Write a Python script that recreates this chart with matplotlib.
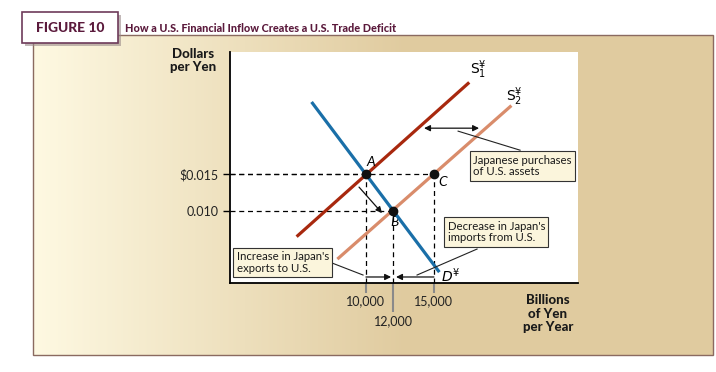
import numpy as np
import matplotlib
matplotlib.use('Agg')
import matplotlib.pyplot as plt
from matplotlib.patches import Rectangle

plt.rcParams['font.family'] = ['Lato', 'DejaVu Sans']

# quantities in billions of yen, prices in dollars per yen
point_names = ['A', 'B', 'C']
point_q = [10000, 12000, 15000]
point_p = [0.015, 0.010, 0.015]

demand_q = [6000, 15400]
demand_p = [0.0250, 0.0015]
s1_q = [4900, 17600]
s1_p = [0.0064, 0.0277]
s2_q = [7900, 20700]
s2_p = [0.0033, 0.0245]

y_ticks = [0.010, 0.015]
y_ticklabels = ['0.010', r'\$0.015']
x_ticks = [10000, 15000]
x_ticklabels = ['10,000', '15,000']
x_minor = [12000]
x_minor_labels = ['12,000']

W, H = 716, 372
fig = plt.figure(figsize=(W / 100, H / 100), dpi=100)

# background in pixel coordinates
bg = fig.add_axes([0, 0, 1, 1])
bg.set_xlim(0, W)
bg.set_ylim(H, 0)
bg.axis('off')

left_c = np.array([254, 249, 226]) / 255
right_c = np.array([224, 203, 159]) / 255
t = np.clip(np.linspace(0, 1, 680) / 0.55, 0, 1)
grad = left_c[None, :] * (1 - t[:, None]) + right_c[None, :] * t[:, None]
bg.imshow(grad[None, :, :], extent=(33, 713, 355, 35), aspect='auto', zorder=1)
bg.add_patch(Rectangle((33, 35), 680, 320, fill=False, ec='#8a6a60', lw=1.0, zorder=2))

# header box
bg.add_patch(Rectangle((25, 15), 96, 31, fc='#9a8a8a', ec='none', alpha=0.6, zorder=3))
bg.add_patch(Rectangle((22, 12), 96, 31, fc='white', ec='#6e3b5a', lw=1.2, zorder=4))
bg.text(70, 28, 'FIGURE 10', ha='center', va='center', fontsize=10,
        fontweight='black', color='#5b1a3c', zorder=5)
bg.text(125, 29, 'How a U.S. Financial Inflow Creates a U.S. Trade Deficit',
        ha='left', va='center', fontsize=7.8, fontweight='black', color='#5b1a3c', zorder=5)

# axis titles
fig.text(193 / W, 1 - 48 / H, 'Dollars\nper Yen', ha='center', va='top',
         fontsize=9.5, fontweight='black', linespacing=1.1, color='#1a1a1a')
fig.text(548 / W, 1 - 294 / H, 'Billions\nof Yen\nper Year', ha='center', va='top',
         fontsize=9.5, fontweight='black', linespacing=1.15, color='#1a1a1a')

ax = fig.add_axes([230 / W, 1 - 283 / H, 348 / W, 231 / H])
ax.set_facecolor('white')
ax.set_xlim(0, 25600)
ax.set_ylim(0, 0.0319)
for side in ['top', 'right']:
    ax.spines[side].set_visible(False)
for side in ['left', 'bottom']:
    ax.spines[side].set_linewidth(1.3)
    ax.spines[side].set_color('black')

ax.set_yticks(y_ticks)
ax.set_yticklabels(y_ticklabels)
ax.tick_params(axis='y', length=5, width=1.0, pad=3, labelsize=9, labelcolor='#222')
ax.set_xticks(x_ticks)
ax.set_xticklabels(x_ticklabels)
ax.set_xticks(x_minor, minor=True)
ax.set_xticklabels(x_minor_labels, minor=True)
ax.tick_params(axis='x', which='major', length=7, width=1.5, color='#8a8a8a',
               pad=2, labelsize=9, labelcolor='#222')
ax.tick_params(axis='x', which='minor', length=21, width=1.5, color='#8a8a8a',
               pad=2, labelsize=9, labelcolor='#222')

# dashed guides
dash = dict(color='black', lw=0.9, linestyle=(0, (4, 3)), zorder=2)
ax.hlines(point_p, 0, point_q, **dash)
ax.vlines(point_q, 0, point_p, **dash)

# curves
ax.plot(s1_q, s1_p, color='#a8280e', lw=2.3, solid_capstyle='butt', zorder=3)
ax.plot(s2_q, s2_p, color='#d98c6b', lw=2.3, solid_capstyle='butt', zorder=3)
ax.plot(demand_q, demand_p, color='#1a6fa8', lw=2.3, solid_capstyle='butt', zorder=4)
ax.plot(point_q, point_p, 'o', color='#111', ms=6, zorder=5)

lab = dict(fontsize=10, style='italic', ha='center', va='center')
ax.text(10350, 0.01670, point_names[0], **lab)
ax.text(12070, 0.00841, point_names[1], **lab)
ax.text(15650, 0.01393, point_names[2], **lab)
ax.text(18250, 0.0294, r'$\mathrm{S}_1^{¥}$', fontsize=10, ha='center', va='center')
ax.text(20900, 0.0257, r'$\mathrm{S}_2^{¥}$', fontsize=10, ha='center', va='center')
ax.text(15500, 0.0010, r'$\mathit{D}^{¥}$', fontsize=10, ha='left', va='center')

# annotation boxes
box = dict(boxstyle='square,pad=0.3', fc='#fbf5dc', ec='#333333', lw=0.8)
txt = dict(fontsize=8.2, ha='left', va='center', linespacing=1.05, bbox=box,
           zorder=6, color='#1a1a1a')
ax.text(17900, 0.01614, 'Japanese purchases\nof U.S. assets', **txt)
ax.text(16000, 0.00703, "Decrease in Japan's\nimports from U.S.", **txt)
ax.text(480, 0.00283, "Increase in Japan's\nexports to U.S.", **txt)

lead = dict(color='#222', lw=0.8, zorder=5)
ax.plot([16780, 21340], [0.02097, 0.01834], **lead)
ax.plot([18175, 13760], [0.00469, 0.0011], **lead)
ax.plot([7506, 9787], [0.00276, 0.0011], **lead)

arr = dict(arrowstyle='-|>', color='#111', lw=0.9, mutation_scale=9,
           shrinkA=0, shrinkB=0)
ax.annotate('', xy=(18320, 0.02138), xytext=(14275, 0.02138),
            arrowprops=dict(arr, arrowstyle='<|-|>'))
ax.annotate('', xy=(11185, 0.00966), xytext=(9492, 0.01324), arrowprops=arr)
ax.annotate('', xy=(11850, 0.00083), xytext=(point_q[0], 0.00083), arrowprops=arr)
ax.annotate('', xy=(12215, 0.00083), xytext=(point_q[2], 0.00083), arrowprops=arr)

fig.savefig('out.png', dpi=100)
